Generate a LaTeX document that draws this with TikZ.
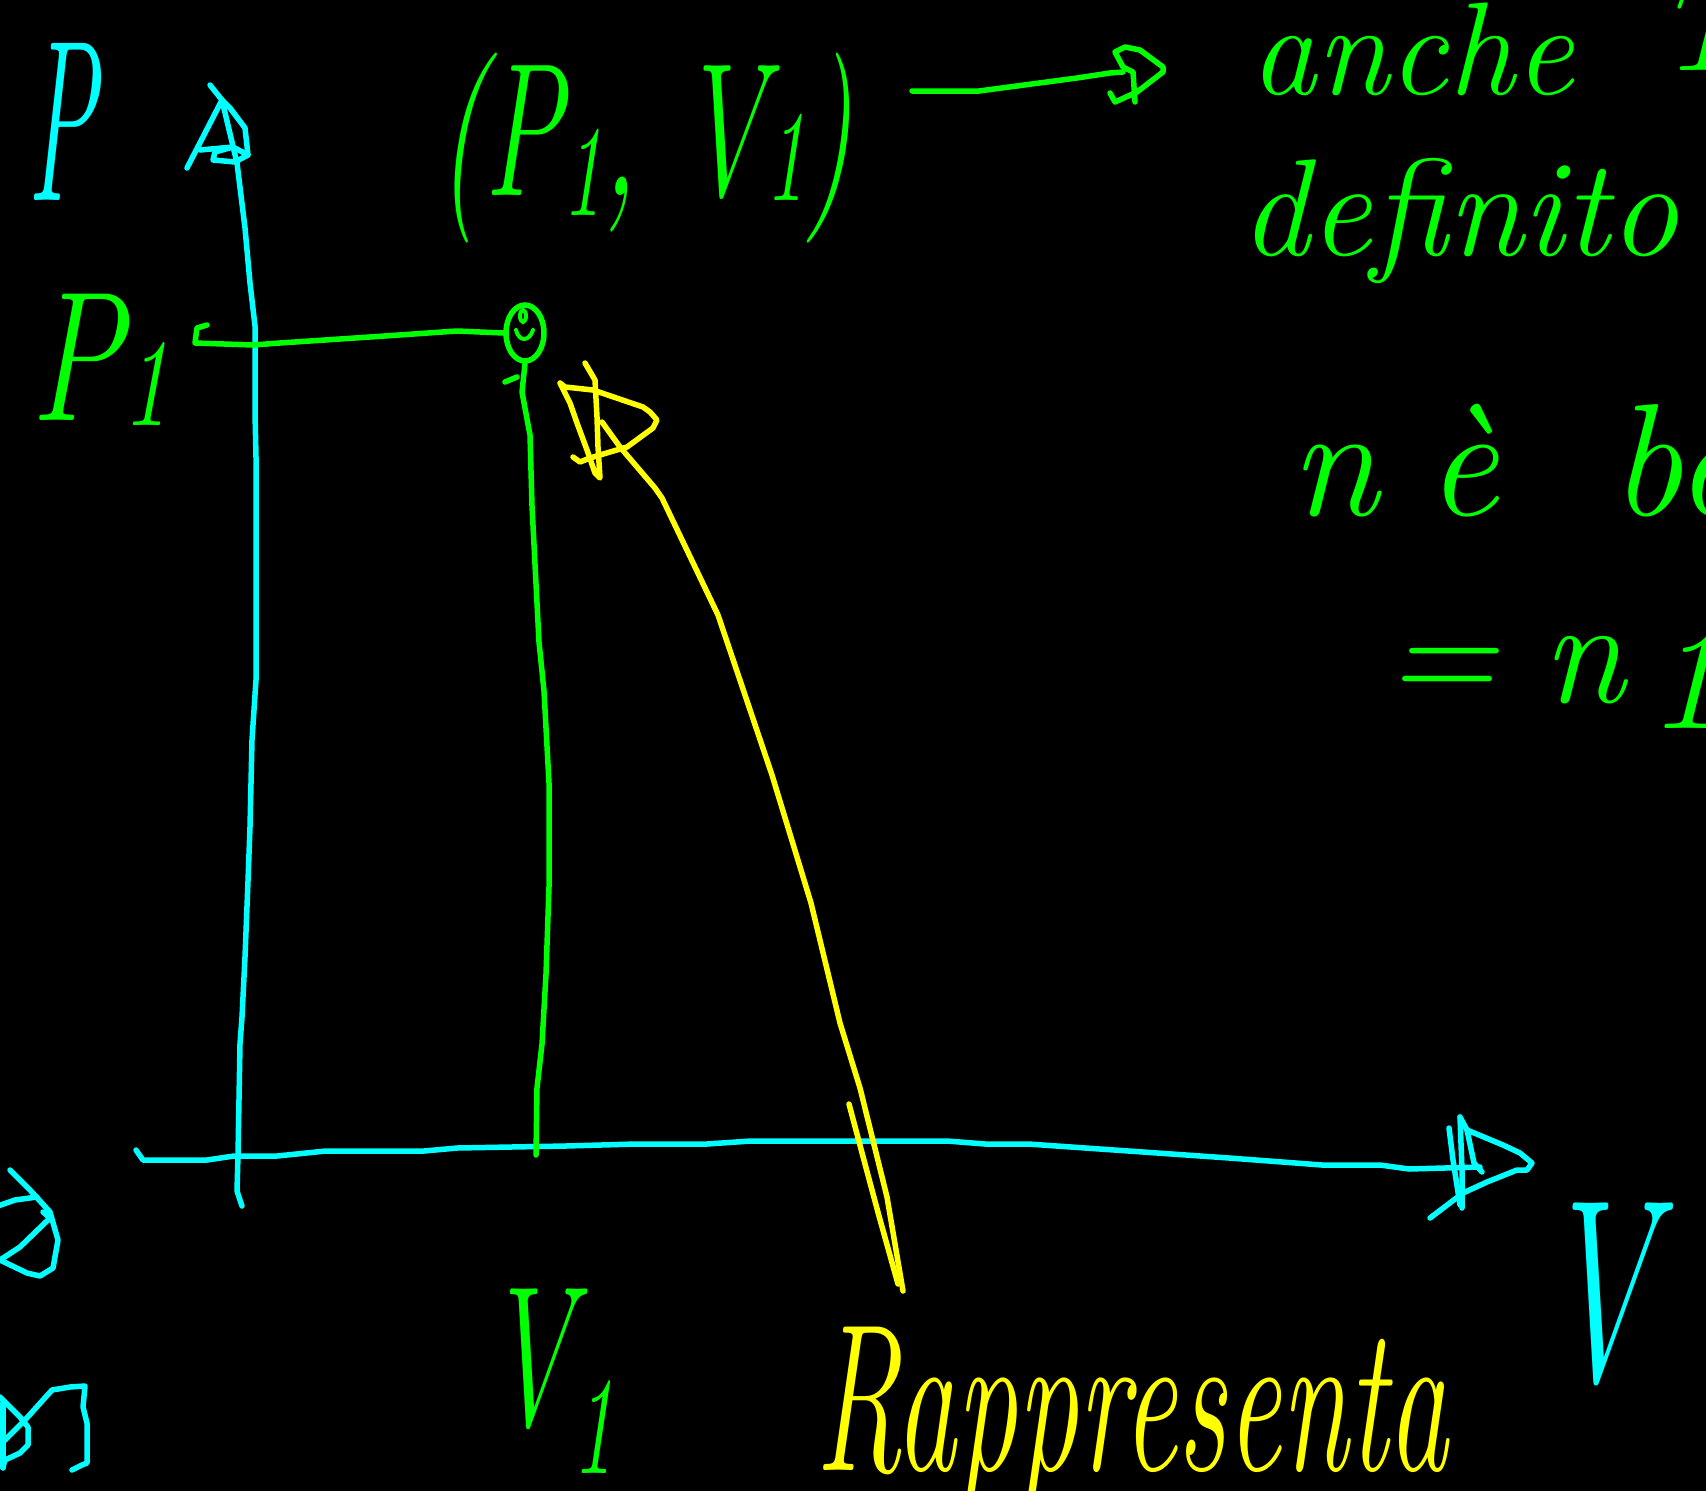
\documentclass[tikz,border=0pt]{standalone}
\usepackage{fontspec}
\usetikzlibrary{shapes.geometric}
\definecolor{cyanc}{RGB}{0,255,255}
\definecolor{greenc}{RGB}{0,255,0}
\definecolor{yellowc}{RGB}{255,255,0}
\newcommand{\fsz}[1]{\fontsize{#1}{#1}\selectfont}
\newcommand{\subs}[3]{\raisebox{-#2}{\fontsize{#1}{#1}\selectfont #3}}
\tikzset{
  cy/.style={draw=cyanc, line width=5.5pt, line cap=round, line join=round},
  gr/.style={draw=greenc, line width=5.5pt, line cap=round, line join=round},
  ye/.style={draw=yellowc, line width=5.5pt, line cap=round, line join=round},
  hand/.style={font=\itshape, inner sep=0pt, outer sep=0pt},
}
\begin{document}
\begin{tikzpicture}[x=1pt,y=-1pt]
\fill[black] (0,0) rectangle (1706,1491);
\useasboundingbox (0,0) rectangle (1706,1491);
\begin{scope}
\clip (0,0) rectangle (1706,1491);

% ---------- axes (cyan) ----------
\coordinate (yb) at (242,1206);
\coordinate (yt) at (222,100);
\draw[cy] (yb) -- (237,1191) -- (238,1155) -- (240,1044) -- (242,1017) -- (245,957) -- (248,881) -- (250,827) -- (252,740) -- (256,680) -- (256,457) -- (255,413) -- (255,326) -- (250,283) -- (245,228) -- (237,163) -- (yt);
\draw[cy] (210,85) -- (yt) -- (187,168);
\draw[cy] (200,150) -- (233,147) -- (248,155) -- (245,128) -- (230,108) -- (yt);
\draw[cy] (233,147) -- (215,152) -- (213,160) -- (235,162) -- (248,155);

\coordinate (xl) at (136,1150);
\coordinate (xr) at (1532,1163);
\draw[cy] (xl) -- (143,1160) -- (207,1160) -- (234,1156) -- (277,1156) -- (326,1151) -- (424,1151) -- (457,1148) -- (566,1146) -- (636,1144) -- (707,1144) -- (751,1141) -- (947,1141) -- (985,1144) -- (1028,1144) -- (1229,1158) -- (1322,1165) -- (1380,1165) -- (1409,1169) -- (1480,1167);
\draw[cy] (1460,1117) -- (1467,1130) -- (1503,1145) -- (1520,1153) -- (xr) -- (1527,1170) -- (1517,1170) -- (1487,1182) -- (1463,1193) -- (1430,1218);
\draw[cy] (1449,1128) -- (1453,1160) -- (1460,1205);
\draw[cy] (1460,1117) -- (1462,1170) -- (1462,1208);
\draw[cy] (1467,1130) -- (1474,1163) -- (1482,1172);

% axis labels
\node[hand, text=cyanc, xscale=0.45, anchor=base] (Plab) at (62,200) {\fsz{230}P};
\node[hand, text=cyanc, xscale=0.6, anchor=base] (Vlab) at (1597,1380) {\fsz{260}V};

% cut-off fragments at left edge
\draw[cy] (10,1170) -- (30,1190) -- (50,1212) -- (58,1240) -- (53,1268) -- (40,1276) -- (27,1273) -- (0,1260);
\draw[cy] (-5,1207) -- (15,1200) -- (37,1197);
\draw[cy] (43,1212) -- (50,1218) -- (20,1247) -- (0,1260);
\draw[cy] (0,1397) -- (20,1417) -- (28,1427) -- (28,1445) -- (20,1453) -- (5,1460) -- (3,1467);
\draw[cy] (2,1443) -- (25,1420) -- (52,1390) -- (70,1387) -- (85,1386) -- (83,1407) -- (87,1423) -- (87,1463) -- (82,1465) -- (72,1470);
\draw[cy] (3,1403) -- (3,1468);

% ---------- state point (green) ----------
\node[draw=greenc, line width=5.5pt, ellipse, minimum width=38pt, minimum height=56pt, inner sep=0pt] (pt) at (525,333) {};
\draw[greenc, line width=4pt] (523,316) ellipse (3 and 6);
\draw[greenc, line width=4pt, line cap=round] (516,330) .. controls (519,342) and (529,342) .. (533,330);

\coordinate (hk) at (207,325);
\draw[gr] (hk) -- (197,328) -- (195,343) -- (253,345) -- (280,343) -- (370,337) -- (457,331) -- (pt.west);
\coordinate (vf) at (536,1155);
\draw[gr] (pt.south) -- (522,392) -- (530,435) -- (532,506) -- (539,642) -- (544,691) -- (549,783) -- (549,887) -- (546,974) -- (542,1044) -- (537,1088) -- (vf);
\draw[gr] (505,382) -- (517,377);

% labels green
\node[hand, text=greenc, xscale=0.75, anchor=base] (P1) at (100,420) {\fsz{185}P\subs{125}{5pt}{1}};
\node[hand, text=greenc, xscale=0.6, anchor=base west] (V1) at (485,1425) {\fsz{200}V\subs{140}{48pt}{1}};
\node[hand, text=greenc, xscale=0.62, anchor=base] (pv) at (645,195) {\fsz{190}(P\subs{130}{20pt}{1}, V\subs{130}{5pt}{1})};

% arrow to text
\coordinate (ga) at (912,91);
\coordinate (gt) at (1163,72);
\draw[gr] (ga) -- (979,91) -- (1077,78) -- (1110,73) -- (1123,72);
\draw[gr] (1110,93) -- (1115,102) -- (1137,92) -- (gt) -- (1163,67) -- (1140,50) -- (1125,47) -- (1115,52) -- (1123,67) -- (1133,72) -- (1135,102);

\node[hand, text=greenc, anchor=base] (anche) at (1412,94) {\fsz{132}anche};
\node[hand, text=greenc, anchor=base] (Tcut) at (1702,70) {\fsz{135}T};
\node[hand, text=greenc, anchor=base west] (def) at (1240,255) {\fsz{138}definito};
\node[hand, text=greenc, anchor=base west] (neb) at (1290,515) {\fsz{160}n\hspace{0.3em}è\hspace{0.7em}be};
\node[hand, text=greenc, anchor=base west] (eqn) at (1385,702) {\fsz{150}=\hspace{0.3em}n\hspace{0.15em}\raisebox{-26pt}{1}};

% ---------- yellow arrow ----------
\coordinate (ya) at (903,1291);
\coordinate (yh) at (602,422);
\draw[ye] (ya) -- (887,1197) -- (860,1088) -- (840,1023) -- (811,903) -- (772,775) -- (718,615) -- (662,498) -- (655,488) -- (620,447) -- (yh);
\draw[ye] (849,1104) -- (865,1164) -- (879,1216) -- (898,1284);
\draw[ye] (573,457) -- (580,462) -- (590,458) -- (610,452) -- (627,447) -- (653,428) -- (657,420) -- (650,412) -- (643,407) -- (593,390) -- (565,387) -- (560,383) -- (570,403) -- (577,423) -- (587,450) -- (595,473) -- (600,478) -- (598,447) -- (597,417) -- (595,380) -- (585,363);

\node[hand, text=yellowc, xscale=0.58, anchor=base west] (rap) at (815,1470) {\fsz{210}Rappresenta};
\end{scope}
\end{tikzpicture}
\end{document}
